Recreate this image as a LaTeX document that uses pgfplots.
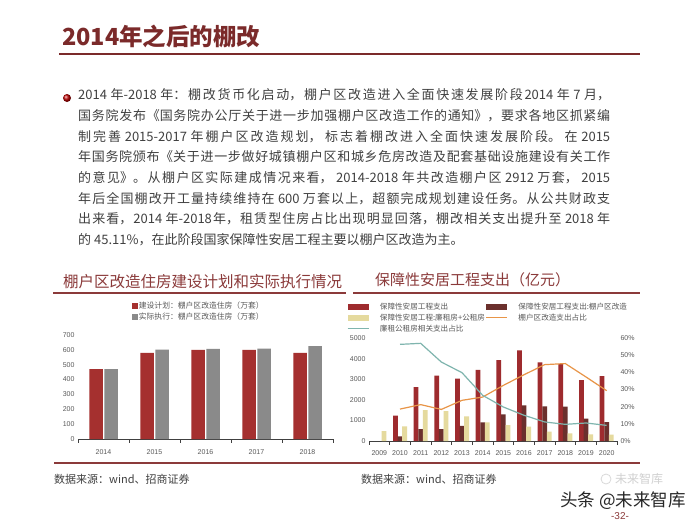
\documentclass[border=0pt]{standalone}
\usepackage{fontspec}
\setmainfont{Liberation Sans}
\newfontfamily\cjk{Noto Sans CJK SC}
\usepackage{pgfplots}
\pgfplotsset{compat=1.18}
\XeTeXlinebreaklocale "zh"
\XeTeXlinebreakskip=0pt plus 4pt minus 0.3pt

\definecolor{titlered}{HTML}{7B2A2A}
\definecolor{subred}{HTML}{8B3A3A}
\definecolor{barred}{HTML}{A5302F}
\definecolor{bargray}{HTML}{8A8A8A}
\definecolor{totred}{HTML}{9E2B2E}
\definecolor{shantybrown}{HTML}{6B302D}
\definecolor{rentyellow}{HTML}{E5DA9E}
\definecolor{lineorange}{HTML}{E89548}
\definecolor{lineteal}{HTML}{7FB5AE}
\definecolor{ticktext}{HTML}{595959}
\definecolor{bodytext}{HTML}{404040}

\pgfplotsset{
  slide axis/.style={
    scale only axis, anchor=south west,
    axis x line*=bottom, axis y line*=left,
    tick align=inside,
    x axis line style={draw=black!75, line width=0.8pt},
    y axis line style={draw=none},
    major x tick style={draw=none},
    minor tick length=3.5pt,
    minor x tick style={draw=black!75, line width=0.6pt},
    ytick style={draw=none},
    tick label style={font=\fontsize{7}{8}\selectfont, text=ticktext},
    /pgf/number format/assume math mode=true,
    /pgf/number format/1000 sep={},
    legend cell align=left,
  },
  wide bar legend/.style={legend image code/.code={\fill[##1] (0pt,-3pt) rectangle (21pt,3pt);}},
  square legend/.style={legend image code/.code={\fill[##1] (0pt,-3pt) rectangle (6pt,3pt);}},
  wide line legend/.style={legend image code/.code={\draw[##1] (0pt,0pt) -- (21pt,0pt);}},
}

\begin{document}
\begin{tikzpicture}[x=1pt,y=1pt]
\path[use as bounding box, fill=white] (0,0) rectangle (700,-525);

% page title
\node[anchor=west, inner sep=0pt, text=titlered, font=\cjk\bfseries\fontsize{23.5}{24}\selectfont] at (62,-36) {2014年之后的棚改};
\draw[titlered, line width=1.8pt] (59,-54) -- (640,-54);

% body text
\shade[ball color=red!75!black] (67,-98) circle (4);
\node[anchor=north west, inner sep=0pt, text width=532pt, align=justify, text=bodytext,
      font=\cjk\fontsize{13}{20.7}\selectfont] at (78,-88.5) {%
2014 年-2018 年：棚改货币化启动，棚户区改造进入全面快速发展阶段2014 年 7 月，\linebreak%
国务院发布《国务院办公厅关于进一步加强棚户区改造工作的通知》，要求各地区抓紧编\linebreak%
制完善 2015-2017 年棚户区改造规划， 标志着棚改进入全面快速发展阶段。 在 2015\linebreak%
年国务院颁布《关于进一步做好城镇棚户区和城乡危房改造及配套基础设施建设有关工作\linebreak%
的意见》。从棚户区实际建成情况来看， 2014-2018 年共改造棚户区 2912 万套， 2015\linebreak%
年后全国棚改开工量持续维持在 600 万套以上，超额完成规划建设任务。从公共财政支\linebreak%
出来看，2014 年-2018年，租赁型住房占比出现明显回落，棚改相关支出提升至 2018 年\linebreak%
的 45.11\%，在此阶段国家保障性安居工程主要以棚户区改造为主。};

% chart titles
\node[anchor=west, inner sep=0pt, text=subred, font=\cjk\fontsize{15.5}{16}\selectfont] at (63,-282) {棚户区改造住房建设计划和实际执行情况};
\node[anchor=west, inner sep=0pt, text=subred, font=\cjk\fontsize{15}{16}\selectfont] at (375,-280) {保障性安居工程支出（亿元）};
\draw[subred, line width=1.2pt] (53,-293) -- (346,-293);
\draw[subred, line width=1.2pt] (353,-293) -- (640,-293);

% left chart
\begin{axis}[slide axis,
  at={(78pt,-439pt)}, width=255pt, height=104pt,
  xmin=-0.5, xmax=4.5, ymin=0, ymax=700,
  xtick={0,...,4}, xticklabels={2014,2015,2016,2017,2018},
  minor xtick={-0.5,0.5,...,4.5},
  ytick={0,100,...,700},
  xticklabel style={yshift=-3pt},
  ybar=1.5pt, bar width=13.5pt,
  square legend,
  legend style={at={(0.212,1.327)}, anchor=north west, draw=none, fill=none,
    font=\cjk\fontsize{7.8}{9}\selectfont, text=ticktext, inner sep=0pt, row sep=2pt,
    nodes={inner sep=0.6pt}},
]
\addplot[fill=barred, draw=none] coordinates {(0,470) (1,580) (2,600) (3,600) (4,580)};
\addplot[fill=bargray, draw=none] coordinates {(0,470) (1,601) (2,606) (3,609) (4,626)};
\legend{建设计划：棚户区改造住房（万套）, 实际执行：棚户区改造住房（万套）}
\end{axis}

% right chart, bars on the left axis
\begin{axis}[slide axis,
  at={(369pt,-441pt)}, width=248pt, height=103pt,
  xmin=2008.5, xmax=2020.5, ymin=0, ymax=5000,
  xtick={2009,...,2020}, minor xtick={2008.5,2009.5,...,2020.5},
  ytick={0,1000,...,5000},
  xticklabel style={yshift=-2pt},
  ybar, bar width=4.8pt,
  wide bar legend,
  legend columns=2,
  legend style={at={(-0.089,1.35)}, anchor=north west, draw=none, fill=none,
    font=\cjk\fontsize{7.6}{9}\selectfont, text=ticktext, inner sep=0pt, row sep=1.8pt,
    nodes={inner sep=0.6pt},
    /tikz/every odd column/.append style={column sep=10pt}},
]
\addplot[fill=totred, draw=none, bar shift=-4.6pt] coordinates {
  (2010,1230) (2011,2620) (2012,3170) (2013,3030) (2014,3450) (2015,3930)
  (2016,4400) (2017,3820) (2018,3740) (2019,2960) (2020,3155)};
\addplot[fill=shantybrown, draw=none, bar shift=0pt] coordinates {
  (2010,227) (2011,580) (2012,580) (2013,730) (2014,906) (2015,1295)
  (2016,1730) (2017,1680) (2018,1670) (2019,1085) (2020,920)};
\addplot[fill=rentyellow, draw=none, bar shift=4.6pt] coordinates {
  (2009,485) (2010,710) (2011,1505) (2012,1455) (2013,1200) (2014,906)
  (2015,777) (2016,700) (2017,453) (2018,372) (2019,324) (2020,307)};
\addlegendimage{wide line legend, lineorange, line width=1.2pt}
\addlegendimage{wide line legend, lineteal, line width=1.2pt}
\legend{保障性安居工程支出, 保障性安居工程支出:棚户区改造, 保障性安居工程:廉租房+公租房, 棚户区改造支出占比, 廉租公租房相关支出占比}
\end{axis}

% right chart, shares on the right axis
\begin{axis}[slide axis,
  at={(369pt,-441pt)}, width=248pt, height=103pt,
  xmin=2008.5, xmax=2020.5, ymin=0, ymax=60,
  axis x line=none, axis y line*=right,
  ytick={0,10,...,60}, yticklabel={\pgfmathprintnumber{\tick}\%},
]
\addplot[lineorange, line width=1.2pt, no markers] coordinates {
  (2010,18.6) (2011,21.2) (2012,18.4) (2013,23.7) (2014,25.6) (2015,32.4)
  (2016,38.6) (2017,44.5) (2018,45.1) (2019,37.3) (2020,29.3)};
\addplot[lineteal, line width=1.2pt, no markers] coordinates {
  (2010,56.3) (2011,56.9) (2012,46.0) (2013,39.8) (2014,26.6) (2015,19.8)
  (2016,15.0) (2017,11.1) (2018,9.7) (2019,10.5) (2020,9.1)};
\end{axis}

% footer
\draw[subred, line width=1.2pt] (54,-463) -- (640,-463);
\node[anchor=west, inner sep=0pt, text=bodytext, font=\cjk\fontsize{11}{12}\selectfont] at (54,-479) {数据来源：wind、招商证券};
\node[anchor=west, inner sep=0pt, text=bodytext, font=\cjk\fontsize{11}{12}\selectfont] at (361,-479) {数据来源：wind、招商证券};
\draw[black!15, line width=0.8pt] (606,-479) circle (5);
\node[anchor=west, inner sep=0pt, text=black!18, font=\cjk\fontsize{12}{12}\selectfont] at (615,-479) {未来智库};
\node[anchor=west, inner sep=0pt, text=black!85, font=\cjk\fontsize{17.5}{18}\selectfont] at (560,-501) {头条 @未来智库};
\node[inner sep=0pt, text=subred, font=\fontsize{10}{11}\selectfont] at (620,-516) {-32-};
\end{tikzpicture}
\end{document}
